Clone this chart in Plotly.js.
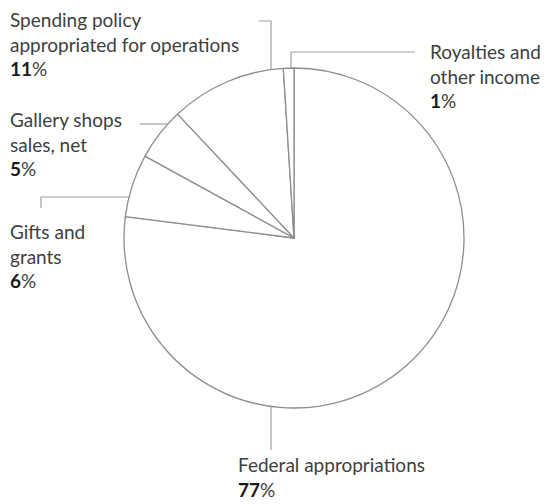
<!DOCTYPE html>
<html>
<head>
<meta charset="utf-8">
<script src="https://cdn.plot.ly/plotly-3.0.1.min.js"></script>
<style>html,body{margin:0;padding:0;background:#fff;}#chart{width:547px;height:504px;}</style>
</head>
<body>
<div id="chart"></div>
<script>
// Data
const categories = ["Federal appropriations", "Gifts and grants", "Gallery shops sales, net", "Spending policy appropriated for operations", "Royalties and other income"];
const values = [77, 6, 5, 11, 1];
const labelLines = [
  ["Federal appropriations"],
  ["Gifts and", "grants"],
  ["Gallery shops", "sales, net"],
  ["Spending policy", "appropriated for operations"],
  ["Royalties and", "other income"]
];
const pctLabels = ["77", "6", "5", "11", "1"];

const W = 547, H = 504;
const px = x => x / W;
const py = y => 1 - y / H;

// label anchor positions (top-left, in pixels) and leader paths (pixels)
const labelPos = [[236, 451], [8, 218], [8, 106], [8, 6], [428, 38]];
const leaders = [
  [[271, 407], [271, 450]],
  [[41, 208], [41, 197], [130, 197]],
  [[140, 124], [167, 124]],
  [[259, 21], [271, 21], [271, 69]],
  [[415, 52], [291, 52], [291, 68]]
];

const annotations = categories.map((c, i) => ({
  xref: 'paper', yref: 'paper',
  x: px(labelPos[i][0]), y: py(labelPos[i][1]),
  xanchor: 'left', yanchor: 'top', align: 'left', showarrow: false,
  text: labelLines[i].join('<br>') + '<br><b style="color:#1a1a1a">' + pctLabels[i] + '</b>%',
  font: {family: 'Lato, "Open Sans", sans-serif', size: 19, color: '#404040'}
}));

const shapes = leaders.map(pts => ({
  type: 'path', xref: 'paper', yref: 'paper',
  path: pts.map((p, j) => (j ? 'L' : 'M') + px(p[0]) + ',' + py(p[1])).join(' '),
  line: {color: '#a0a0a0', width: 1.2}
}));

const trace = {
  type: 'pie',
  labels: categories,
  values: values,
  sort: false,
  direction: 'clockwise',
  rotation: 0,
  textinfo: 'none',
  hoverinfo: 'label+percent',
  marker: {colors: categories.map(() => '#ffffff'), line: {color: '#8e8e8e', width: 1.3}},
  domain: {x: [px(124), px(464)], y: [py(408), py(68)]},
  showlegend: false
};

Plotly.newPlot('chart', [trace], {
  width: W, height: H,
  margin: {l: 0, r: 0, t: 0, b: 0},
  paper_bgcolor: '#ffffff',
  showlegend: false,
  annotations: annotations,
  shapes: shapes
}, {displayModeBar: false, staticPlot: true});
</script>
</body>
</html>
